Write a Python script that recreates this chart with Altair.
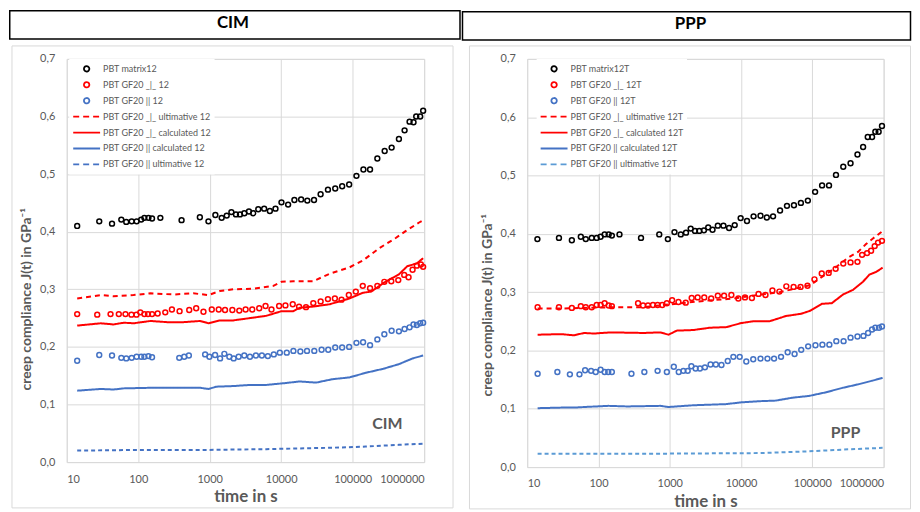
import altair as alt
import pandas as pd

FONT = "Lato"
GRID = "#D9D9D9"
TXT = "#595959"

# ---------------- CIM panel data ----------------
CIM_LABELS = ["PBT matrix12", "PBT GF20 _|_ 12", "PBT GF20 || 12",
              "PBT GF20 _|_ ultimative 12", "PBT GF20 _|_ calculated 12",
              "PBT GF20 || calculated 12", "PBT GF20 || ultimative 12"]
CIM_COLORS = ["#000000", "#FF0000", "#4472C4", "#FF0000", "#FF0000", "#4472C4", "#4472C4"]

cim_matrix_t = [14, 28.5, 43, 58, 68, 81, 95, 110, 122, 139, 156, 204, 404, 728, 960, 1200, 1470, 1730,
                2010, 2330, 2650, 3050, 3540, 4060, 4780, 5780, 6940, 8320, 10090, 12500, 15300, 19000,
                23200, 28800, 35600, 45100, 57000, 71300, 89300, 112900, 141300, 175000, 221400, 280300,
                350700, 443600, 532400, 625000, 710000, 774000, 880000, 968000]
cim_matrix_j = [0.410, 0.418, 0.414, 0.421, 0.417, 0.418, 0.418, 0.421, 0.424, 0.424, 0.423, 0.424, 0.420,
                0.425, 0.418, 0.429, 0.424, 0.428, 0.434, 0.430, 0.430, 0.432, 0.435, 0.432, 0.439, 0.440,
                0.436, 0.440, 0.451, 0.447, 0.455, 0.456, 0.454, 0.455, 0.465, 0.473, 0.475, 0.479, 0.482,
                0.497, 0.508, 0.508, 0.527, 0.540, 0.546, 0.561, 0.576, 0.591, 0.590, 0.600, 0.600, 0.610]

cim_perp_t = [14, 26.7, 41, 53.5, 66.3, 80.4, 94.4, 107, 122, 137, 156, 187, 239, 296, 379, 517, 647, 818,
              1069, 1337, 1638, 2074, 2594, 3179, 3937, 4929, 6040, 7315, 9356, 11460, 14510, 17780, 22240,
              28130, 35630, 45080, 56360, 69830, 88310, 110600, 138400, 175000, 221400, 277300, 346900,
              434500, 526200, 605300, 688500, 790600, 899300, 968000]
cim_perp_j = [0.257, 0.256, 0.257, 0.257, 0.257, 0.256, 0.256, 0.260, 0.257, 0.257, 0.257, 0.258, 0.260,
              0.265, 0.262, 0.264, 0.267, 0.261, 0.265, 0.265, 0.264, 0.264, 0.263, 0.265, 0.265, 0.267,
              0.271, 0.265, 0.271, 0.272, 0.274, 0.270, 0.269, 0.276, 0.279, 0.283, 0.284, 0.282, 0.290,
              0.296, 0.306, 0.302, 0.306, 0.313, 0.314, 0.316, 0.325, 0.321, 0.334, 0.341, 0.343, 0.339]

cim_par_t = [14, 28.5, 43, 58, 68, 81, 95, 110, 122, 139, 156, 375, 440, 511, 863, 991, 1189, 1396, 1603,
             1883, 2163, 2541, 3046, 3654, 4427, 5370, 6505, 7886, 9570, 11970, 14820, 18540, 22970, 29050,
             36760, 45530, 57010, 71250, 89300, 112900, 139900, 175000, 221400, 277300, 350700, 443600,
             532400, 625000, 710000, 790600, 879600, 968000]
cim_par_j = [0.176, 0.186, 0.185, 0.181, 0.180, 0.181, 0.183, 0.183, 0.183, 0.184, 0.182, 0.181, 0.183,
             0.185, 0.187, 0.183, 0.186, 0.180, 0.188, 0.183, 0.180, 0.183, 0.185, 0.183, 0.185, 0.185,
             0.184, 0.187, 0.190, 0.190, 0.193, 0.192, 0.193, 0.193, 0.195, 0.195, 0.199, 0.199, 0.200,
             0.207, 0.208, 0.203, 0.213, 0.222, 0.228, 0.227, 0.231, 0.234, 0.239, 0.238, 0.241, 0.242]

cim_perp_ult_t = [14, 30, 45, 86, 148, 313, 590, 960, 1390, 2130, 4070, 7800, 10100, 14700, 28000, 47500,
                  90000, 139000, 240000, 400000, 550000, 850000, 968000]
cim_perp_ult_j = [0.284, 0.290, 0.288, 0.290, 0.293, 0.291, 0.293, 0.290, 0.297, 0.300, 0.301, 0.306,
                  0.313, 0.314, 0.314, 0.327, 0.338, 0.350, 0.372, 0.389, 0.401, 0.416, 0.420]

cim_perp_calc_t = [14, 30, 45, 63, 86, 148, 252, 431, 735, 960, 1390, 2130, 3660, 6200, 10100, 14700,
                   18200, 28000, 47500, 90000, 139000, 182000, 278000, 444000, 580000, 790000, 968000]
cim_perp_calc_j = [0.237, 0.241, 0.239, 0.242, 0.241, 0.245, 0.243, 0.243, 0.245, 0.241, 0.246, 0.246,
                   0.250, 0.254, 0.262, 0.262, 0.268, 0.270, 0.274, 0.284, 0.294, 0.296, 0.312, 0.326,
                   0.340, 0.345, 0.354]

cim_par_calc_t = [14, 30, 45, 63, 148, 431, 735, 960, 1250, 2130, 3660, 6200, 11000, 18200, 30700, 52600,
                  90000, 152000, 268000, 443000, 688000, 968000]
cim_par_calc_j = [0.124, 0.127, 0.126, 0.128, 0.129, 0.129, 0.129, 0.127, 0.131, 0.132, 0.134, 0.134,
                  0.137, 0.140, 0.138, 0.144, 0.147, 0.155, 0.162, 0.170, 0.180, 0.185]

cim_par_ult_t = [14, 86, 735, 6200, 52600, 152000, 443000, 968000]
cim_par_ult_j = [0.020, 0.021, 0.021, 0.0225, 0.025, 0.027, 0.030, 0.032]

# ---------------- PPP panel data ----------------
PPP_LABELS = ["PBT matrix12T", "PBT GF20 _|_ 12T", "PBT GF20 || 12T",
              "PBT GF20 _|_ ultimative 12T", "PBT GF20 _|_ calculated 12T",
              "PBT GF20 || calculated 12T", "PBT GF20 || ultimative 12T"]
PPP_COLORS = ["#000000", "#FF0000", "#4472C4", "#FF0000", "#FF0000", "#4472C4", "#5B9BD5"]

ppp_matrix_t = [13.9, 27.9, 42.3, 56.5, 66.3, 80.4, 94.4, 107, 122, 139, 154, 197, 395, 712, 940, 1164,
                1426, 1690, 1964, 2259, 2594, 3013, 3461, 3979, 4721, 5663, 6790, 8147, 9867, 12110, 14990,
                18750, 22970, 28130, 35240, 44060, 55210, 69060, 86500, 109400, 137000, 171400, 214600,
                271500, 343500, 429600, 515400, 598500, 688500, 765000, 851500, 948000]
ppp_matrix_j = [0.391, 0.393, 0.389, 0.395, 0.391, 0.393, 0.393, 0.395, 0.399, 0.399, 0.397, 0.399, 0.393,
                0.399, 0.391, 0.403, 0.399, 0.402, 0.409, 0.405, 0.405, 0.406, 0.411, 0.407, 0.414, 0.414,
                0.410, 0.415, 0.427, 0.422, 0.430, 0.431, 0.428, 0.430, 0.440, 0.448, 0.449, 0.453, 0.457,
                0.472, 0.483, 0.483, 0.501, 0.515, 0.521, 0.536, 0.549, 0.566, 0.566, 0.575, 0.575, 0.585]

ppp_perp_t = [14, 27.9, 42.3, 56.5, 66.3, 80.4, 94.4, 107, 122, 139, 154, 359, 422, 495, 581, 675, 784,
              910, 1080, 1323, 1674, 2029, 2460, 3046, 3810, 4721, 5783, 7315, 9160, 11350, 14200, 17580,
              22010, 27540, 34500, 43150, 54590, 68390, 85520, 107100, 135500, 169500, 212300, 271500,
              343500, 429600, 498900, 586100, 666700, 749300, 834200, 948000]
ppp_perp_j = [0.274, 0.274, 0.273, 0.276, 0.274, 0.274, 0.278, 0.278, 0.281, 0.277, 0.276, 0.281, 0.277,
              0.277, 0.278, 0.278, 0.278, 0.281, 0.286, 0.283, 0.282, 0.290, 0.291, 0.291, 0.289, 0.294,
              0.294, 0.295, 0.289, 0.291, 0.290, 0.297, 0.295, 0.303, 0.301, 0.310, 0.309, 0.309, 0.311,
              0.322, 0.332, 0.333, 0.340, 0.349, 0.351, 0.352, 0.364, 0.367, 0.371, 0.379, 0.385, 0.388]

ppp_par_t = [14, 26.5, 39.7, 54.1, 64.9, 78.7, 91.4, 107, 122, 137, 154, 290, 440, 675, 910, 1139, 1337,
             1553, 1785, 2009, 2306, 2649, 3112, 3733, 4427, 5311, 6505, 7800, 9570, 11840, 14820, 18750,
             23460, 29050, 36370, 45080, 56360, 69830, 87400, 110600, 138400, 173300, 216900, 274400,
             343500, 429600, 521000, 605300, 688500, 765000, 861000, 948000]
ppp_par_j = [0.160, 0.163, 0.159, 0.159, 0.166, 0.165, 0.163, 0.167, 0.163, 0.163, 0.163, 0.160, 0.163,
             0.165, 0.163, 0.172, 0.163, 0.165, 0.165, 0.173, 0.169, 0.169, 0.171, 0.176, 0.176, 0.175,
             0.182, 0.189, 0.189, 0.181, 0.185, 0.186, 0.186, 0.186, 0.189, 0.197, 0.194, 0.201, 0.207,
             0.209, 0.210, 0.210, 0.216, 0.216, 0.222, 0.224, 0.225, 0.230, 0.236, 0.239, 0.239, 0.241]

ppp_perp_ult_t = [14, 30, 60, 150, 400, 1000, 3000, 7700, 17000, 35000, 93000, 200000, 316000, 437000,
                  562000, 708000, 930000, 968000]
ppp_perp_ult_j = [0.272, 0.272, 0.273, 0.274, 0.274, 0.279, 0.285, 0.289, 0.295, 0.300, 0.312, 0.340,
                  0.359, 0.369, 0.382, 0.392, 0.403, 0.405]

ppp_perp_calc_t = [14, 30, 45, 63, 86, 148, 431, 735, 960, 1250, 2130, 3660, 6200, 10100, 14700, 25000,
                   42500, 70000, 93000, 136000, 187000, 270000, 373000, 515000, 630000, 795000, 968000]
ppp_perp_calc_j = [0.227, 0.228, 0.226, 0.230, 0.229, 0.231, 0.230, 0.231, 0.227, 0.234, 0.235, 0.239,
                   0.240, 0.247, 0.250, 0.250, 0.259, 0.263, 0.268, 0.280, 0.281, 0.296, 0.304, 0.318,
                   0.330, 0.335, 0.342]

ppp_par_calc_t = [14, 30, 45, 63, 138, 252, 735, 960, 1250, 2130, 6200, 10100, 18200, 30700, 52600, 90000,
                  152000, 268000, 443000, 688000, 968000]
ppp_par_calc_j = [0.101, 0.102, 0.102, 0.103, 0.105, 0.104, 0.105, 0.103, 0.104, 0.106, 0.108, 0.111,
                  0.113, 0.114, 0.119, 0.122, 0.128, 0.136, 0.142, 0.148, 0.153]

ppp_par_ult_t = [14, 735, 18200, 90000, 268000, 968000]
ppp_par_ult_j = [0.023, 0.023, 0.024, 0.027, 0.030, 0.033]

X_TICKS = [10, 100, 1000, 10000, 100000, 1000000]
Y_TICKS = [0.0, 0.1, 0.2, 0.3, 0.4, 0.5, 0.6, 0.7]

# legend glyphs: small open circle and a horizontal stroke (unit square paths)
CIRCLE_PATH = "M-0.2,0A0.2,0.2,0,1,1,0.2,0A0.2,0.2,0,1,1,-0.2,0Z"
STROKE_PATH = "M-1,0L1,0"


def js_list(items):
    return "[" + ",".join("'" + s + "'" for s in items) + "]"


def panel(labels, colors, points, lines, header, annot, annot_t, annot_j, g):
    pts = pd.concat([pd.DataFrame({"t": t, "J": j, "series": s}) for s, t, j in points])
    lns = pd.concat([pd.DataFrame({"t": t, "J": j, "series": s}) for s, t, j in lines])
    point_labels = labels[:3]
    line_labels = labels[3:]
    dashed = [labels[3], labels[6]]

    xs = alt.Scale(type="log", domain=[10, 1000000], nice=False)
    ys = alt.Scale(domain=[0, 0.7], nice=False)
    x_enc = alt.X("t:Q", scale=xs, axis=alt.Axis(
        values=X_TICKS, format="d", grid=True, gridColor=GRID, domain=False, ticks=False, tickSize=0,
        labelFont=FONT, labelFontSize=11, labelColor=TXT, labelPadding=11, labelOverlap=False,
        title="time in s", titleFont=FONT, titleFontSize=17, titleFontWeight="bold", titleColor=TXT,
        titleX=g["w"] / 2, titleY=35, titleBaseline="middle", titleAlign="center"))
    y_enc = alt.Y("J:Q", scale=ys, axis=alt.Axis(
        values=Y_TICKS, labelExpr="replace(format(datum.value, '.1f'), '.', ',')", grid=True,
        gridColor=GRID, domain=False, ticks=False, tickSize=0, labelFont=FONT, labelFontSize=11,
        labelColor=TXT, labelPadding=12,
        title="creep compliance J(t) in GPa⁻¹", titleFont=FONT, titleFontSize=14,
        titleFontWeight="bold", titleColor=TXT, titleX=-40, titleY=g["yt"], titleAngle=270,
        titleBaseline="middle", titleAlign="center"))

    is_pt = "indexof(" + js_list(point_labels) + ", datum.value) >= 0"
    is_dash = "indexof(" + js_list(dashed) + ", datum.value) >= 0"
    legend = alt.Legend(
        title=None, orient="none", legendX=g["lx"], legendY=g["ly"], direction="vertical",
        symbolSize=729, symbolStrokeWidth=1.8, clipHeight=14, rowPadding=2, labelOffset=2,
        symbolType=alt.ExprRef(is_pt + " ? '" + CIRCLE_PATH + "' : '" + STROKE_PATH + "'"),
        symbolDash=alt.ExprRef(is_dash + " ? [6,4] : [1,0]"),
        symbolFillColor="transparent",
        labelFont=FONT, labelFontSize=9, labelColor=TXT, fillColor="white", padding=3)
    color = alt.Color("series:N", scale=alt.Scale(domain=labels, range=colors), legend=legend)

    one = pd.DataFrame({"k": [0]})
    frame = alt.Chart(one).mark_rect(fill="transparent", stroke=GRID, strokeWidth=1).encode(
        x=alt.value(g["fx1"]), x2=alt.value(g["fx2"]), y=alt.value(g["fy1"]), y2=alt.value(g["fy2"]))
    head = alt.Chart(one).mark_rect(fill="transparent", stroke="#000000", strokeWidth=1.5).encode(
        x=alt.value(g["hx1"]), x2=alt.value(g["hx2"]), y=alt.value(g["hy1"]), y2=alt.value(g["hy2"]))
    head_txt = alt.Chart(pd.DataFrame({"label": [header]})).mark_text(
        font=FONT, fontSize=17, fontWeight="bold", color="#000000", baseline="middle", align="center"
    ).encode(text="label:N", x=alt.value(g["tx"]), y=alt.value(g["ty"]))

    pts_layer = alt.Chart(pts).mark_point(shape="circle", filled=False, size=24, strokeWidth=1.5,
                                          opacity=1).encode(x=x_enc, y=y_enc, color=color)
    lns_layer = alt.Chart(lns).mark_line(strokeWidth=2).encode(
        x=x_enc, y=y_enc, color=color,
        strokeDash=alt.StrokeDash("series:N", scale=alt.Scale(domain=line_labels, range=g["dashes"]),
                                  legend=None))
    ann = alt.Chart(pd.DataFrame({"t": [annot_t], "J": [annot_j], "label": [annot]})).mark_text(
        font=FONT, fontSize=16, fontWeight="bold", color=TXT, baseline="middle", align="center"
    ).encode(x=x_enc, y=y_enc, text="label:N")

    return alt.layer(frame, head, head_txt, lns_layer, pts_layer, ann).properties(
        width=g["w"], height=g["h"])


cim_geo = dict(w=359, h=405, yt=241, fx1=-55, fx2=388, fy1=-13, fy2=451, hx1=-57.25, hx2=395,
               hy1=-48.25, hy2=-20, tx=167, ty=-36, lx=2.5, ly=0,
               dashes=[[5, 4], [1, 0], [1, 0], [4, 3]])
ppp_geo = dict(w=358, h=410, yt=247, fx1=-58, fx2=385, fy1=-13, fy2=452, hx1=-65, hx2=385,
               hy1=-47.25, hy2=-19, tx=164, ty=-35, lx=9.5, ly=0,
               dashes=[[5, 4], [1, 0], [1, 0], [4, 3]])

left = panel(
    CIM_LABELS, CIM_COLORS,
    [(CIM_LABELS[0], cim_matrix_t, cim_matrix_j), (CIM_LABELS[1], cim_perp_t, cim_perp_j),
     (CIM_LABELS[2], cim_par_t, cim_par_j)],
    [(CIM_LABELS[3], cim_perp_ult_t, cim_perp_ult_j), (CIM_LABELS[4], cim_perp_calc_t, cim_perp_calc_j),
     (CIM_LABELS[5], cim_par_calc_t, cim_par_calc_j), (CIM_LABELS[6], cim_par_ult_t, cim_par_ult_j)],
    "CIM", "CIM", 305000, 0.066, cim_geo)
right = panel(
    PPP_LABELS, PPP_COLORS,
    [(PPP_LABELS[0], ppp_matrix_t, ppp_matrix_j), (PPP_LABELS[1], ppp_perp_t, ppp_perp_j),
     (PPP_LABELS[2], ppp_par_t, ppp_par_j)],
    [(PPP_LABELS[3], ppp_perp_ult_t, ppp_perp_ult_j), (PPP_LABELS[4], ppp_perp_calc_t, ppp_perp_calc_j),
     (PPP_LABELS[5], ppp_par_calc_t, ppp_par_calc_j), (PPP_LABELS[6], ppp_par_ult_t, ppp_par_ult_j)],
    "PPP", "PPP", 292000, 0.058, ppp_geo)

chart = alt.hconcat(left, right, spacing=-1.5).resolve_scale(
    color="independent", strokeDash="independent").resolve_legend(color="independent").properties(
    padding=0, background="white").configure_view(strokeWidth=0).configure(font=FONT)

chart.save("out.html", embed_options={"renderer": "svg", "actions": False})
